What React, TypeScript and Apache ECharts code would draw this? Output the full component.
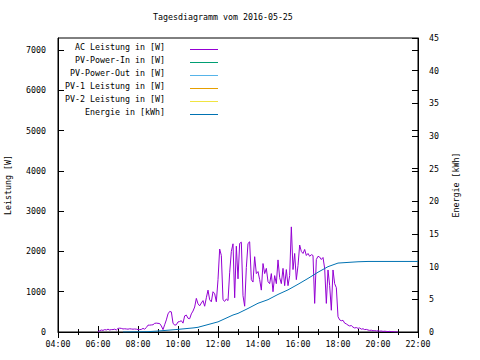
import React, { useEffect, useRef } from "react";
import * as echarts from "echarts";

const titleText = "Tagesdiagramm vom 2016-05-25";
const leftAxisName = "Leistung [W]";
const rightAxisName = "Energie [kWh]";

const seriesNames = [
  "AC Leistung in [W]",
  "PV-Power-In in [W]",
  "PV-Power-Out in [W]",
  "PV-1 Leistung in [W]",
  "PV-2 Leistung in [W]",
  "Energie in [kWh]",
];
const seriesColors = ["#9400d3", "#009e73", "#56b4e9", "#e69f00", "#f0e442", "#0072b2"];

// AC power samples, every 5 minutes from 06:00 to 21:00
const acStart = "06:00";
const acStepMinutes = 5;
const acValues = [
  // 06:00
  10, 30, 50, 40, 60, 50, 70, 50, 60, 60, 70, 50,
  // 07:00
  90, 95, 90, 75, 80, 75, 70, 80, 75, 70, 75, 70,
  // 08:00
  60, 60, 65, 90, 70, 110, 170, 170, 175, 180, 215, 220,
  // 09:00
  215, 210, 150, 60, 180, 300, 450, 510, 500, 220, 170, 180,
  // 10:00
  250, 260, 280, 220, 400, 420, 340, 330, 450, 520, 620, 835,
  // 11:00
  700, 650, 720, 780, 640, 850, 1040, 800, 750, 1000, 950, 750,
  // 12:00
  1300, 2060, 1900, 800, 760, 820, 780, 1470, 2000, 2190, 850, 2130,
  // 13:00
  1320, 2200, 2230, 900, 640, 1600, 2200, 2240, 1300, 1240, 1870, 1450,
  // 14:00
  1500, 1300, 1040, 1700, 1450, 1580, 1250, 1200, 1450, 1000, 1400, 1200,
  // 15:00
  1790, 1350, 1200, 1580, 1150, 1550, 1150, 1400, 2610, 1550, 1950, 1300,
  // 16:00
  1650, 2160, 2000, 1950, 2050, 1900, 1950, 1880, 1920, 1900, 710, 1800,
  // 17:00
  1880, 1860, 1800, 1850, 1580, 710, 1540, 1150, 540, 1540, 1200, 1100,
  // 18:00
  380, 300, 280, 290, 220, 200, 170, 150, 160, 120, 100, 110,
  // 19:00
  90, 100, 70, 80, 60, 65, 50, 40, 45, 30, 35, 25,
  // 20:00
  30, 20, 25, 15, 20, 15, 10, 15, 10, 8, 5, 3,
  // 21:00
  0,
];

const energyTimes = [
  "07:15", "08:30", "09:00", "10:00", "10:45", "11:00", "12:00", "12:45", "13:00",
  "13:30", "14:00", "14:30", "15:00", "15:30", "16:00", "16:30", "17:00", "17:30",
  "18:00", "18:30", "19:00", "19:30", "22:00",
];
const energyValues = [
  0, 0.05, 0.15, 0.4, 0.62, 0.72, 1.55, 2.6, 2.85,
  3.6, 4.4, 4.95, 5.75, 6.45, 7.3, 8.2, 9.15, 10.0,
  10.55, 10.65, 10.75, 10.8, 10.8,
];

const xMin = 4;
const xMax = 22;
const xInterval = 2;
const leftMax = 7300;
const leftInterval = 1000;
const rightMax = 45;
const rightInterval = 5;

const FONT = "DejaVu Sans Mono";
const FS = 8.3;

function toHours(t: string): number {
  const [h, m] = t.split(":").map(Number);
  return h + m / 60;
}

function fmtHour(v: number): string {
  const h = Math.round(v);
  return (h < 10 ? "0" : "") + h + ":00";
}

export default function App() {
  const ref = useRef<HTMLDivElement>(null);

  useEffect(() => {
    if (!ref.current) return;
    const chart = echarts.init(ref.current, undefined, { renderer: "svg" });

    const start = toHours(acStart);
    const acData = acValues.map((v, i) => [start + (i * acStepMinutes) / 60, v]);
    const energyData = energyTimes.map((t, i) => [toHours(t), energyValues[i]]);

    const textStyle = { fontFamily: FONT, fontSize: FS, color: "#000" };
    const tickStyle = { inside: true, length: 6, lineStyle: { color: "#000", width: 1 } };

    const lineSeries = (idx: number, data: number[][], yAxisIndex: number) => ({
      name: seriesNames[idx],
      type: "line",
      data,
      yAxisIndex,
      showSymbol: false,
      symbol: "none",
      color: seriesColors[idx],
      lineStyle: { color: seriesColors[idx], width: 1 },
      itemStyle: { color: seriesColors[idx] },
    });

    // legend row geometry (swatch lines drawn next to the legend texts)
    const legendTop = 42;
    const legendRow = 13;
    const swatches = seriesNames.map((n, i) => ({
      type: "line",
      silent: true,
      shape: { x1: 190, y1: 49.5 + i * legendRow, x2: 218, y2: 49.5 + i * legendRow },
      style: { stroke: seriesColors[i], lineWidth: 1 },
    }));

    chart.setOption({
      animation: false,
      backgroundColor: "#fff",
      title: {
        text: titleText,
        left: 153,
        top: 13,
        padding: 0,
        textStyle: { ...textStyle, fontWeight: "normal" },
      },
      legend: {
        orient: "vertical",
        right: 262,
        top: legendTop,
        padding: 0,
        align: "right",
        itemWidth: 48,
        itemHeight: 9,
        itemGap: legendRow - 9,
        icon: "path://M0,0M20,4h28v1h-28zM0,9",
        selectedMode: false,
        textStyle: { ...textStyle, lineHeight: 9 },
        data: seriesNames.map((n) => ({
          name: n,
          itemStyle: { opacity: 0 },
          lineStyle: { opacity: 0 },
        })),
      },
      graphic: swatches,
      grid: {
        left: 58,
        right: 62,
        top: 38,
        bottom: 28,
        show: true,
        borderColor: "#000",
        borderWidth: 1,
        backgroundColor: "transparent",
        containLabel: false,
        outerBoundsMode: "none",
      },
      xAxis: [
        {
          type: "value",
          min: xMin,
          max: xMax,
          interval: xInterval,
          axisLine: { show: true, lineStyle: { color: "#000" } },
          axisTick: tickStyle,
          minorTick: { show: true, splitNumber: 2, length: 3, lineStyle: { color: "#000" } },
          axisLabel: { ...textStyle, margin: 8, formatter: (v: number) => fmtHour(v) },
          splitLine: { show: false },
        },
        {
          type: "value",
          position: "top",
          min: xMin,
          max: xMax,
          interval: xInterval,
          axisLine: { show: false },
          axisTick: tickStyle,
          minorTick: { show: true, splitNumber: 2, length: 3, lineStyle: { color: "#000" } },
          axisLabel: { show: false },
          splitLine: { show: false },
        },
      ],
      yAxis: [
        {
          type: "value",
          min: 0,
          max: leftMax,
          interval: leftInterval,
          name: leftAxisName,
          nameLocation: "middle",
          nameGap: 46,
          nameRotate: 90,
          nameTextStyle: textStyle,
          axisLine: { show: true, lineStyle: { color: "#000" } },
          axisTick: tickStyle,
          axisLabel: { ...textStyle, margin: 12, showMaxLabel: false, formatter: (v: number) => String(v) },
          splitLine: { show: false },
        },
        {
          type: "value",
          position: "right",
          min: 0,
          max: rightMax,
          interval: rightInterval,
          name: rightAxisName,
          nameLocation: "middle",
          nameGap: 34,
          nameRotate: 90,
          nameTextStyle: textStyle,
          axisLine: { show: true, lineStyle: { color: "#000" } },
          axisTick: tickStyle,
          axisLabel: { ...textStyle, margin: 11, formatter: (v: number) => String(v) },
          splitLine: { show: false },
        },
        {
          type: "value",
          position: "right",
          min: 0,
          max: leftMax,
          interval: leftInterval,
          axisLine: { show: false },
          axisTick: tickStyle,
          axisLabel: { show: false },
          splitLine: { show: false },
        },
      ],
      series: [
        lineSeries(0, acData, 0),
        lineSeries(1, [], 0),
        lineSeries(2, [], 0),
        lineSeries(3, [], 0),
        lineSeries(4, [], 0),
        lineSeries(5, energyData, 1),
      ],
    });

    return () => chart.dispose();
  }, []);

  return (
    <div
      ref={ref}
      style={{ position: "fixed", left: 0, top: 0, width: 480, height: 360, background: "#fff" }}
    />
  );
}
